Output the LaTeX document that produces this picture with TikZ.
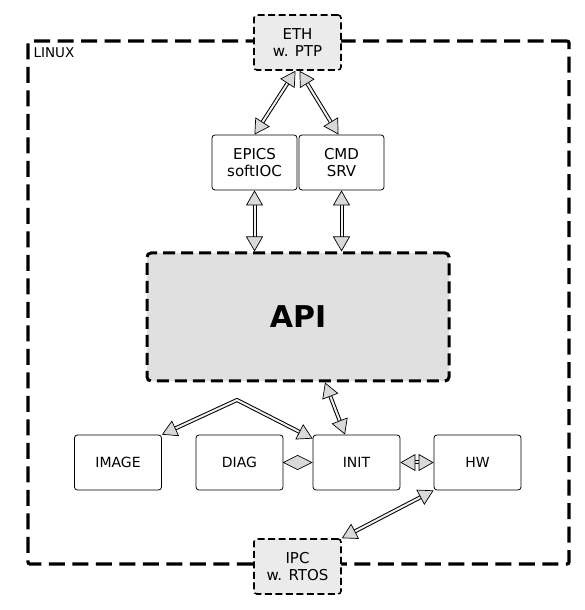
\documentclass[tikz,border=0pt]{standalone}
\usepackage{fontspec}
\setmainfont{DejaVu Sans}
\usetikzlibrary{arrows.meta}

\begin{document}
\begin{tikzpicture}[x=1pt,y=1pt,
    blk/.style={draw, line width=0.8pt, rounded corners=3pt, minimum width=87pt,
      minimum height=55pt, align=center, font=\fontsize{14}{16}\selectfont},
    toptxt/.style={font=\fontsize{15}{17.5}\selectfont},
    port/.style={blk, toptxt, fill=black!8, line width=1.6pt, dash pattern=on 7pt off 3.5pt},
    dbl/.style={draw, line width=1pt, double=black!6, double distance=2pt,
      {Triangle[length=15pt, width=17pt, line width=0.7pt, fill=black!15]}-{Triangle[length=15pt, width=17pt, line width=0.7pt, fill=black!15]}}]
      \useasboundingbox (0,0) rectangle (584,610);
      \node[draw, line width=3.2pt, rounded corners=2pt, dash pattern=on 16pt off 7.5pt,
        minimum width=541pt, minimum height=523pt, inner sep=0pt] (linux) at (298.5,307.5) {};
      \node[anchor=north west, inner sep=0pt, font=\fontsize{13.5}{15}\selectfont] (linuxlbl)
        at ([xshift=7pt,yshift=-8pt]linux.north west) {LINUX};
      \node[port] (eth) at (297.5,567.5) {ETH\\w. PTP};
      \node[port] (ipc) at (297.5,43.5) {IPC\\w. RTOS};
      \node[blk, toptxt, minimum width=85pt] (epics) at (254.5,447.5) {EPICS\\softIOC};
      \node[blk, toptxt, minimum width=85pt] (cmd) at (341.5,447.5) {CMD\\SRV};
      \node[draw, line width=3pt, rounded corners=4pt, dash pattern=on 12pt off 6pt,
        fill=black!12, minimum width=302pt, minimum height=128pt,
        font=\fontsize{30}{36}\selectfont\bfseries] (api) at (298,293) {API};
      \node[blk] (image) at (118,147.5) {IMAGE};
      \node[blk] (diag) at (239.5,147.5) {DIAG};
      \node[blk] (init) at (356.5,147.5) {INIT};
      \node[blk] (hw) at (477.5,147.5) {HW};
      \coordinate (fork) at (237,210);
      \draw[dbl] ([xshift=-2pt]eth.south) -- (epics.north);
      \draw[dbl] ([xshift=2pt]eth.south) -- ([xshift=-3pt]cmd.north);
      \draw[dbl] (epics.south) -- (epics.south |- api.north);
      \draw[dbl] (cmd.south) -- (cmd.south |- api.north);
      \draw[dbl] ([xshift=27pt]api.south) -- ([xshift=-11.5pt]init.north);
      \draw[dbl] (image.north east) -- (fork) -- ([yshift=-4pt]init.north west);
      \draw[dbl] (init.east) -- (hw.west);
      \draw[dbl] (hw.south west) -- (ipc.north east);
      \draw[line width=0.7pt, -{Diamond[length=30pt, width=15pt, line width=0.7pt, fill=black!15]}]
        (diag.east) -- (init.west);
    \end{tikzpicture}
\end{document}
